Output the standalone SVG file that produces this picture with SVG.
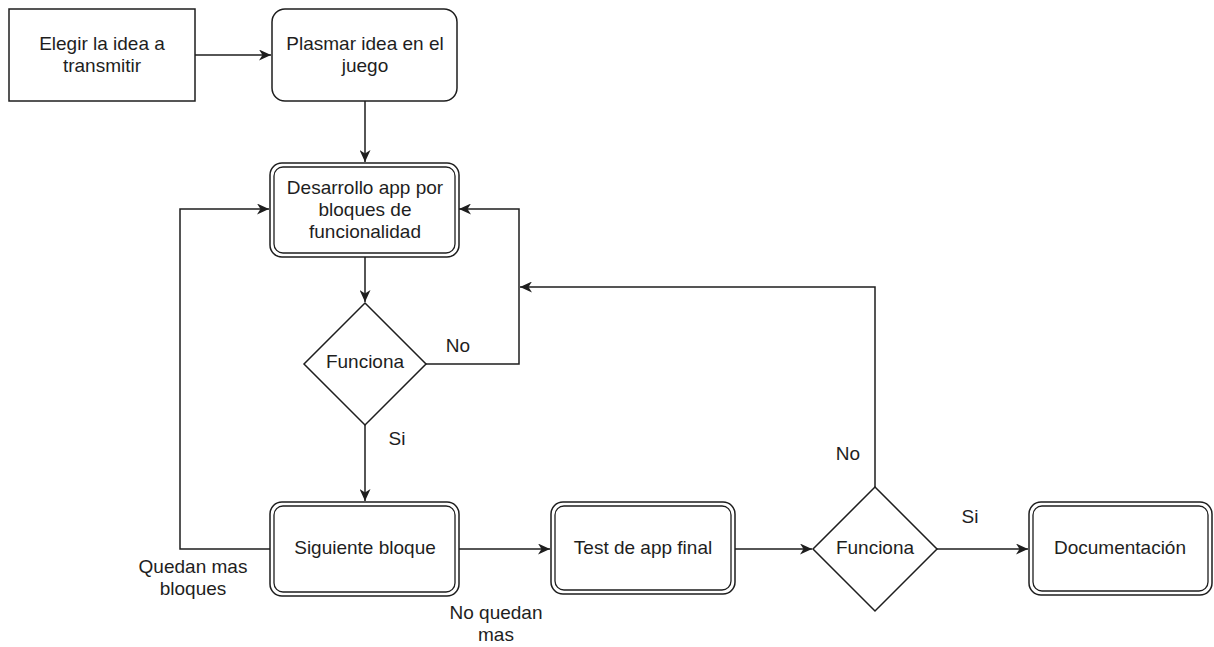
<svg xmlns="http://www.w3.org/2000/svg" width="1214" height="647" viewBox="0 0 1214 647">
  <style>
    .box { fill: #ffffff; stroke: #1e1e1e; stroke-width: 1.5; }
    .dbl { fill: none; stroke: #1e1e1e; stroke-width: 1.3; }
    .edge { fill: none; stroke: #1e1e1e; stroke-width: 1.5; }
    .lbl { font-family: "Liberation Sans", Arial, sans-serif; font-size: 19px; fill: #1e1e1e; text-anchor: middle; }
  </style>
  <defs>
    <marker id="arr" markerUnits="userSpaceOnUse" markerWidth="13" markerHeight="11" refX="12" refY="5.5" orient="auto">
      <path d="M0,0 L12,5.5 L0,11 L3.5,5.5 Z" fill="#1e1e1e"/>
    </marker>
  </defs>
  <rect width="1214" height="647" fill="#ffffff"/>

  <g id="connectors">
    <path class="edge" d="M195,55 H271" marker-end="url(#arr)"/>
    <path class="edge" d="M365,101 V162" marker-end="url(#arr)"/>
    <path class="edge" d="M365,257 V302" marker-end="url(#arr)"/>
    <path class="edge" d="M426,364 H519 V209 H459" marker-end="url(#arr)"/>
    <path class="edge" d="M365,425 V501" marker-end="url(#arr)"/>
    <path class="edge" d="M270,549 H180 V209 H269" marker-end="url(#arr)"/>
    <path class="edge" d="M459,549 H550" marker-end="url(#arr)"/>
    <path class="edge" d="M735,549 H812" marker-end="url(#arr)"/>
    <path class="edge" d="M937,549 H1028" marker-end="url(#arr)"/>
    <path class="edge" d="M875,487 V287 H520" marker-end="url(#arr)"/>
    <text class="lbl" x="458" y="352">No</text>
    <text class="lbl" x="397" y="445">Si</text>
    <text class="lbl" x="193" y="573">Quedan mas</text>
    <text class="lbl" x="193" y="595">bloques</text>
    <text class="lbl" x="496" y="619">No quedan</text>
    <text class="lbl" x="496" y="641">mas</text>
    <text class="lbl" x="848" y="460">No</text>
    <text class="lbl" x="970" y="523">Si</text>
  </g>

  <g id="node-elegir">
    <rect class="box" x="9" y="9" width="186" height="92"/>
    <text class="lbl" x="102" y="50">Elegir la idea a</text>
    <text class="lbl" x="102" y="72">transmitir</text>
  </g>

  <g id="node-plasmar">
    <rect class="box" x="272" y="9" width="185" height="92" rx="13" ry="13"/>
    <text class="lbl" x="365" y="50">Plasmar idea en el</text>
    <text class="lbl" x="365" y="72">juego</text>
  </g>

  <g id="node-desarrollo">
    <rect class="box" x="270" y="163" width="189" height="94" rx="12" ry="12"/>
    <rect class="dbl" x="274" y="167" width="181" height="86" rx="9" ry="9"/>
    <text class="lbl" x="365" y="194">Desarrollo app por</text>
    <text class="lbl" x="365" y="216">bloques de</text>
    <text class="lbl" x="365" y="238">funcionalidad</text>
  </g>

  <g id="node-funciona1">
    <polygon class="box" points="365,303 426,364 365,425 304,364"/>
    <text class="lbl" x="365" y="368">Funciona</text>
  </g>

  <g id="node-siguiente">
    <rect class="box" x="270" y="502" width="189" height="94" rx="12" ry="12"/>
    <rect class="dbl" x="274" y="506" width="181" height="86" rx="9" ry="9"/>
    <text class="lbl" x="365" y="554">Siguiente bloque</text>
  </g>

  <g id="node-test">
    <rect class="box" x="551" y="502" width="184" height="92" rx="12" ry="12"/>
    <rect class="dbl" x="555" y="506" width="176" height="84" rx="9" ry="9"/>
    <text class="lbl" x="643" y="554">Test de app final</text>
  </g>

  <g id="node-funciona2">
    <polygon class="box" points="875,487 937,549 875,611 813,549"/>
    <text class="lbl" x="875" y="554">Funciona</text>
  </g>

  <g id="node-documentacion">
    <rect class="box" x="1029" y="502" width="183" height="93" rx="12" ry="12"/>
    <rect class="dbl" x="1033" y="506" width="175" height="85" rx="9" ry="9"/>
    <text class="lbl" x="1120" y="554">Documentación</text>
  </g>
</svg>
